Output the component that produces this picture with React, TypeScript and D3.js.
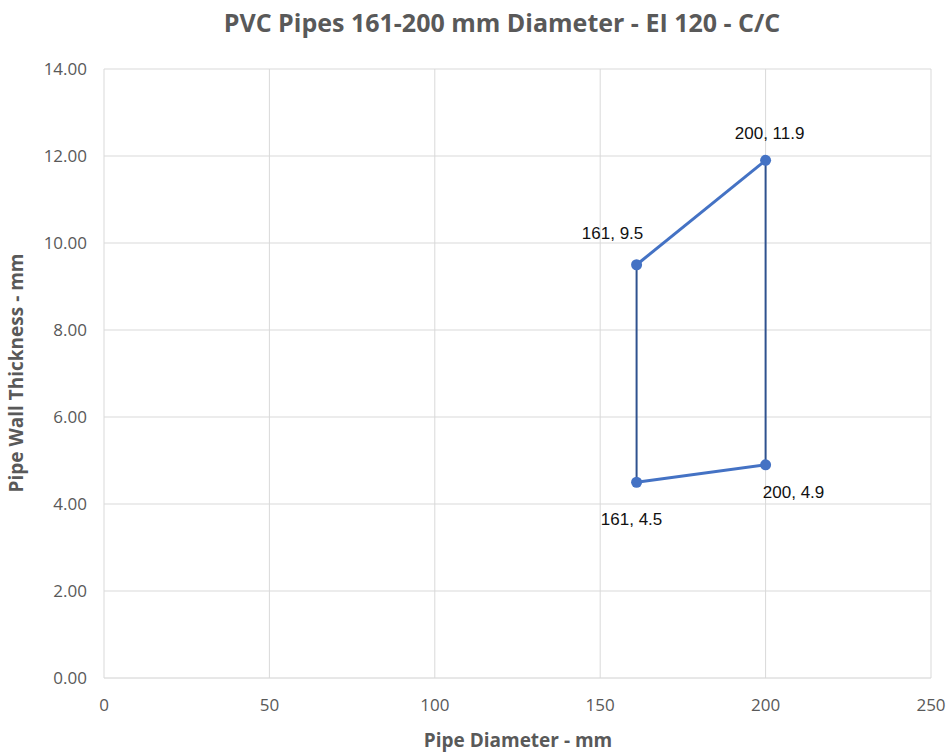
import React from "react";
import * as d3 from "d3";

const xTicks = [0, 50, 100, 150, 200, 250];
const yTicks = [0, 2, 4, 6, 8, 10, 12, 14];
const upperSeries = [
  { x: 161, y: 9.5 },
  { x: 200, y: 11.9 },
];
const lowerSeries = [
  { x: 161, y: 4.5 },
  { x: 200, y: 4.9 },
];
const leftEdge = [
  { x: 161, y: 4.5 },
  { x: 161, y: 9.5 },
];
const rightEdge = [
  { x: 200, y: 4.9 },
  { x: 200, y: 11.9 },
];
const pointLabels = [
  { x: 161, y: 9.5, text: "161, 9.5", dx: -24, dy: -26 },
  { x: 200, y: 11.9, text: "200, 11.9", dx: 4, dy: -21 },
  { x: 161, y: 4.5, text: "161, 4.5", dx: -5, dy: 43 },
  { x: 200, y: 4.9, text: "200, 4.9", dx: 28, dy: 33 },
];

const W = 949;
const H = 756;
const calibri = "'Liberation Sans Narrow', 'Open Sans', sans-serif";

export default function App() {
  const x = d3.scaleLinear().domain([0, 250]).range([104, 931]);
  const y = d3.scaleLinear().domain([0, 14]).range([678, 69]);
  const line = d3
    .line<{ x: number; y: number }>()
    .x((d) => x(d.x))
    .y((d) => y(d.y));
  const pts = [...upperSeries, ...lowerSeries];
  return (
    <svg width={W} height={H} style={{ position: "absolute", left: 0, top: 0, background: "#fff" }}>
      <text x={502} y={32} textAnchor="middle" fontFamily={calibri} fontWeight="bold" fontSize={25} fill="#595959">
        PVC Pipes 161-200 mm Diameter - EI 120 - C/C
      </text>
      {yTicks.map((t) => (
        <g key={"y" + t}>
          <line x1={x(0)} x2={x(250)} y1={y(t)} y2={y(t)} stroke={t === 0 ? "#d0d0d0" : "#d9d9d9"} strokeWidth={1} />
          <text x={87} y={y(t) + 6} textAnchor="end" fontFamily={calibri} fontSize={17} fill="#595959">
            {d3.format(".2f")(t)}
          </text>
        </g>
      ))}
      {xTicks.map((t) => (
        <g key={"x" + t}>
          <line x1={x(t)} x2={x(t)} y1={y(0)} y2={y(14)} stroke="#d9d9d9" strokeWidth={1} />
          <text x={x(t)} y={711} textAnchor="middle" fontFamily={calibri} fontSize={17} fill="#595959">
            {t}
          </text>
        </g>
      ))}
      <text x={518} y={747} textAnchor="middle" fontFamily={calibri} fontWeight="bold" fontSize={19} fill="#595959">
        Pipe Diameter - mm
      </text>
      <text
        transform={`translate(23, ${373}) rotate(-90)`}
        textAnchor="middle"
        fontFamily={calibri}
        fontWeight="bold"
        fontSize={19}
        fill="#595959"
      >
        Pipe Wall Thickness - mm
      </text>
      <path d={line(leftEdge) || ""} fill="none" stroke="#2F528F" strokeWidth={2} />
      <path d={line(rightEdge) || ""} fill="none" stroke="#2F528F" strokeWidth={2} />
      <path d={line(upperSeries) || ""} fill="none" stroke="#4472C4" strokeWidth={3} />
      <path d={line(lowerSeries) || ""} fill="none" stroke="#4472C4" strokeWidth={3} />
      {pts.map((p, i) => (
        <circle key={i} cx={x(p.x)} cy={y(p.y)} r={5.5} fill="#4472C4" />
      ))}
      {pointLabels.map((l, i) => (
        <text
          key={i}
          x={x(l.x) + l.dx}
          y={y(l.y) + l.dy}
          textAnchor="middle"
          fontFamily="'Liberation Sans', Arial, sans-serif"
          fontSize={17}
          fill="#111"
        >
          {l.text}
        </text>
      ))}
    </svg>
  );
}
